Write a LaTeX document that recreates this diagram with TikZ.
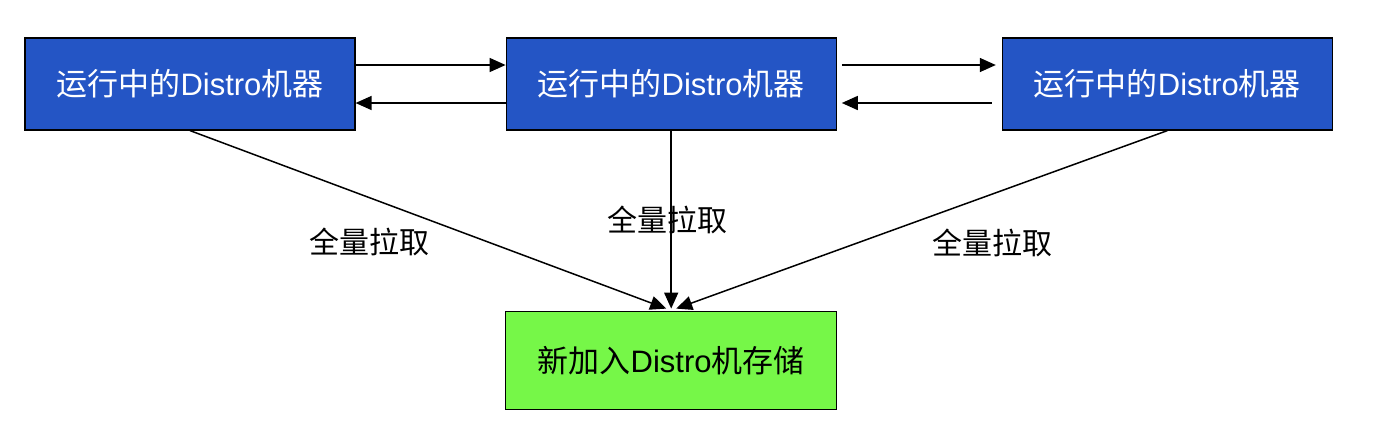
\documentclass[tikz,border=0pt]{standalone}
\usepackage{fontspec}
\setmainfont{Liberation Sans}
\newfontfamily\cjk{Noto Sans CJK SC}
\usetikzlibrary{arrows.meta, positioning}
\definecolor{runblue}{RGB}{36, 85, 197}
\definecolor{newgreen}{RGB}{118, 247, 72}

\begin{document}
\begin{tikzpicture}[
    x=1pt, y=-1pt,
    machine/.style={draw=black, line width=1.2pt, fill=runblue, text=white, minimum width=330pt, minimum height=92pt, font=\fontsize{31}{36}\selectfont, inner sep=0pt},
    newmachine/.style={draw=black, line width=1.2pt, fill=newgreen, minimum width=331pt, minimum height=98pt, font=\fontsize{31}{36}\selectfont, inner sep=0pt},
    arrow/.style={-{Triangle[length=16pt, width=14pt]}, line width=1.5pt, black},
    pull/.style={font=\cjk\fontsize{30}{36}\selectfont}
]
    \useasboundingbox (0,0) rectangle (1374,440);

    % Nodes - top row
    \node[machine] (run1) at (190,84) {{\cjk 运行中的}Distro{\cjk 机器}};
    \node[machine, right=150pt of run1] (run2) {{\cjk 运行中的}Distro{\cjk 机器}};
    \node[machine, right=165pt of run2] (run3) {{\cjk 运行中的}Distro{\cjk 机器}};

    % Node - bottom
    \node[newmachine, below=180pt of run2] (newdistro) {{\cjk 新加入}Distro{\cjk 机存储}};

    % Arrows between running machines
    \draw[arrow] ([yshift=19pt]run1.east) -- ([yshift=19pt]run2.west);
    \draw[arrow] ([yshift=-19pt]run2.west) -- ([yshift=-19pt]run1.east);
    \draw[arrow, shorten <=5pt, shorten >=6pt] ([yshift=19pt]run2.east) -- ([yshift=19pt]run3.west);
    \draw[arrow, shorten <=10pt, shorten >=5pt] ([yshift=-19pt]run3.west) -- ([yshift=-19pt]run2.east);

    % Full pull arrows
    \draw[arrow] (run1.south) -- ([xshift=-5pt, yshift=2pt]newdistro.north);
    \draw[arrow] (run2.south) -- ([yshift=2pt]newdistro.north);
    \draw[arrow] (run3.south) -- ([xshift=5pt, yshift=2pt]newdistro.north);

    % Labels
    \node[pull] (pull1) at (369,242) {全量拉取};
    \node[pull] (pull2) at (667,220) {全量拉取};
    \node[pull] (pull3) at (992,243) {全量拉取};
\end{tikzpicture}
\end{document}
